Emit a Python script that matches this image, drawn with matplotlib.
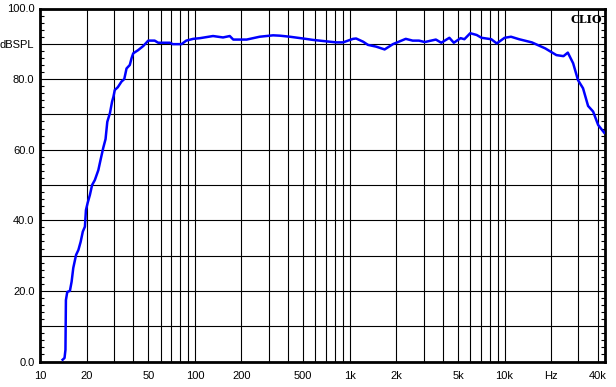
import matplotlib
matplotlib.use("Agg")
import matplotlib.pyplot as plt
from matplotlib.ticker import FixedLocator, NullFormatter

freq_hz = [14.0, 14.4, 14.6, 14.7, 15.0, 15.6, 16.0, 16.4, 17.1, 17.7, 18.3, 18.9,
           19.5, 19.8, 20.3, 21.0, 21.7, 22.6, 23.8, 24.6, 25.6, 26.5, 27.2, 28.3,
           29.2, 29.8, 30.4, 31.8, 33.6, 35.0, 36.2, 38.0, 39.0, 40.0, 43.0, 46.5,
           50.0, 55.0, 58.0, 69.0, 72.0, 82.0, 88.0, 97.5, 108, 131, 152, 168, 177,
           216, 262, 320, 354, 411, 500, 580, 670, 820, 905, 1050, 1100, 1220, 1310,
           1480, 1680, 1900, 2300, 2550, 2800, 3050, 3600, 3900, 4400, 4700, 5200,
           5500, 6000, 6600, 7100, 8200, 8900, 10000, 11000, 12400, 15000, 18300,
           21600, 24000, 25600, 27700, 29800, 32100, 34600, 37300, 40200, 44000]
spl_db = [0.5, 1.0, 3.3, 17.4, 19.7, 20.0, 22.6, 26.5, 30.2, 31.6, 33.9, 36.8,
          38.2, 42.9, 44.9, 47.2, 50.0, 51.4, 54.2, 57.1, 60.5, 63.0, 67.9, 70.4,
          73.6, 75.0, 76.9, 77.7, 79.3, 80.0, 83.0, 84.0, 85.9, 87.3, 88.2, 89.4,
          90.9, 90.9, 90.3, 90.3, 89.9, 89.9, 90.9, 91.4, 91.6, 92.2, 91.8, 92.2, 91.2,
          91.2, 92.0, 92.4, 92.3, 92.0, 91.5, 91.1, 90.8, 90.4, 90.4, 91.4, 91.5, 90.6, 89.7,
          89.2, 88.4, 89.9, 91.4, 90.9, 90.9, 90.5, 91.2, 90.3, 91.7, 90.3, 91.6,
          91.3, 93.0, 92.5, 91.7, 91.3, 90.1, 91.7, 92.0, 91.3, 90.4, 88.7,
          86.8, 86.5, 87.5, 84.5, 79.7, 77.4, 72.4, 70.8, 67.0, 64.8]

x_grid = [m * 10 ** e for e in range(1, 5) for m in range(1, 10) if m * 10 ** e <= 40000]
x_label_map = {10: "10", 20: "20", 50: "50", 100: "100", 200: "200", 500: "500",
               1000: "1k", 2000: "2k", 5000: "5k", 10000: "10k", 20000: "Hz", 40000: "40k"}
y_ticks = [0, 10, 20, 30, 40, 50, 60, 70, 80, 90, 100]
y_labels = ["0.0", "", "20.0", "", "40.0", "", "60.0", "", "80.0", "dBSPL", "100.0"]

plt.rcParams["font.family"] = ["Liberation Sans", "DejaVu Sans"]

fig = plt.figure(figsize=(6.16, 3.87), dpi=100)
W, H = 616, 387
ax = fig.add_axes([40 / W, (H - 361.5) / H, (605 - 40) / W, (361.5 - 8.5) / H])

ax.plot(freq_hz, spl_db, color="#0000ff", lw=1.8, zorder=3)

ax.set_xscale("log")
ax.set_xlim(10, 44500)
ax.set_ylim(0, 100)

ax.xaxis.set_major_locator(FixedLocator(x_grid))
ax.set_xticklabels([x_label_map.get(v, "") for v in x_grid])
ax.xaxis.set_minor_locator(FixedLocator([]))
ax.xaxis.set_minor_formatter(NullFormatter())
ax.set_yticks(y_ticks)
ax.set_yticklabels(y_labels)
ax.yaxis.set_minor_locator(FixedLocator([v for v in range(0, 101, 2)]))

ax.grid(True, which="major", color="black", lw=0.8)
ax.tick_params(axis="x", which="major", length=0, labelsize=8, pad=7)
ax.tick_params(axis="y", which="major", length=0, labelsize=8, pad=4)
ax.tick_params(axis="y", which="minor", direction="in", length=3, width=0.8,
               left=True, right=True)
for s in ax.spines.values():
    s.set_linewidth(2.0)
    s.set_color("black")

ax.text(0.995, 0.985, "CLIO", transform=ax.transAxes, ha="right", va="top",
        fontsize=8, fontweight="bold", family="DejaVu Serif", zorder=4)

fig.savefig("out.png", dpi=100)
